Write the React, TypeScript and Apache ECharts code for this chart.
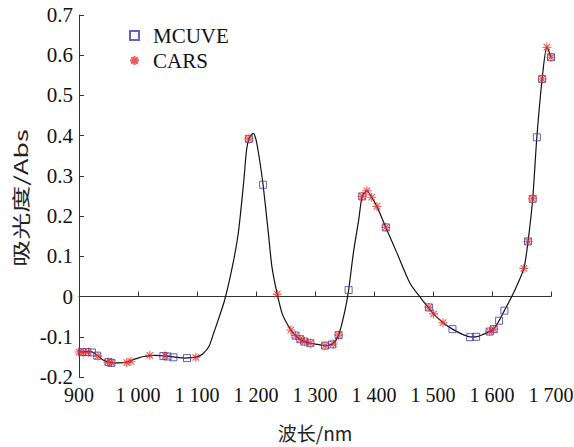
import React, { useEffect, useRef } from "react";
import * as echarts from "echarts";

const xTicks = [900, 1000, 1100, 1200, 1300, 1400, 1500, 1600, 1700];

const spectrumNm = [
  900, 910, 920, 930, 940, 950, 960, 970, 980, 990, 1000, 1010, 1020, 1030, 1040, 1050, 1060, 1070, 1080, 1090,
  1100, 1110, 1120, 1128, 1136, 1147, 1160, 1170, 1179, 1184, 1188, 1192, 1196, 1200, 1205, 1212, 1221, 1227,
  1236, 1245, 1259, 1267, 1275, 1282, 1292, 1305, 1317, 1329, 1340, 1350, 1357, 1365, 1374, 1380, 1388, 1396,
  1405, 1420, 1439, 1461, 1480, 1492, 1501, 1517, 1533, 1550, 1563, 1573, 1585, 1596, 1603, 1612, 1621, 1630,
  1640, 1654, 1661, 1669, 1676, 1685, 1693, 1700,
];
const spectrumAbs = [
  -0.138, -0.137, -0.137, -0.145, -0.157, -0.163, -0.165, -0.165, -0.163, -0.158, -0.153, -0.149, -0.147, -0.146,
  -0.147, -0.148, -0.15, -0.152, -0.153, -0.152, -0.15, -0.142, -0.125, -0.092, -0.058, -0.008, 0.075, 0.158,
  0.283, 0.365, 0.392, 0.402, 0.405, 0.39, 0.35, 0.278, 0.157, 0.074, 0.006, -0.045, -0.083, -0.097, -0.106,
  -0.112, -0.116, -0.119, -0.122, -0.118, -0.096, -0.04, 0.016, 0.108, 0.19, 0.249, 0.263, 0.247, 0.224, 0.172,
  0.108, 0.033, -0.005, -0.027, -0.043, -0.065, -0.081, -0.094, -0.1, -0.1, -0.094, -0.087, -0.08, -0.06, -0.035,
  -0.01, 0.02, 0.07, 0.136, 0.243, 0.396, 0.541, 0.62, 0.595,
];

const mcuveNm = [
  905, 913, 922, 931, 950, 955, 1043, 1050, 1060, 1083, 1188, 1212, 1267, 1275, 1282, 1292, 1317, 1329, 1340, 1357,
  1380, 1420, 1493, 1533, 1563, 1573, 1596, 1603, 1612, 1621, 1661, 1669, 1676, 1685, 1700,
];
const mcuveAbs = [
  -0.138, -0.138, -0.139, -0.147, -0.163, -0.165, -0.148, -0.149, -0.151, -0.153, 0.392, 0.278, -0.097, -0.106,
  -0.112, -0.116, -0.122, -0.119, -0.096, 0.016, 0.249, 0.172, -0.027, -0.081, -0.101, -0.1, -0.087, -0.081, -0.06,
  -0.035, 0.137, 0.243, 0.396, 0.541, 0.595,
];

const carsNm = [
  900, 907, 916, 932, 949, 955, 981, 988, 1020, 1046, 1098, 1188, 1236, 1259, 1267, 1275, 1282, 1292, 1317, 1331,
  1340, 1380, 1388, 1396, 1405, 1420, 1493, 1501, 1517, 1596, 1603, 1654, 1661, 1669, 1685, 1693, 1700,
];
const carsAbs = [
  -0.138, -0.139, -0.138, -0.148, -0.163, -0.164, -0.164, -0.161, -0.146, -0.147, -0.151, 0.392, 0.006, -0.083,
  -0.097, -0.106, -0.112, -0.116, -0.122, -0.118, -0.096, 0.249, 0.263, 0.247, 0.224, 0.172, -0.027, -0.043, -0.065,
  -0.087, -0.081, 0.07, 0.137, 0.243, 0.541, 0.62, 0.595,
];

const yName = "吸光度/Abs";

const serif = "'Liberation Serif', 'Times New Roman', serif";
const cjk = "'Noto Sans CJK SC', sans-serif";
const starPath = "path://M0,-5L0,5M-5,0L5,0M-3.6,-3.6L3.6,3.6M-3.6,3.6L3.6,-3.6";

const zip = (a: number[], b: number[]) => a.map((v, i) => [v, b[i]]);

export default function App() {
  const ref = useRef<HTMLDivElement>(null);
  useEffect(() => {
    if (!ref.current) return;
    const chart = echarts.init(ref.current, undefined, { renderer: "svg" });
    chart.setOption({
      animation: false,
      backgroundColor: "#ffffff",
      grid: { left: 79, right: 23, top: 15, bottom: 70, outerBoundsMode: "none", containLabel: false },
      legend: {
        data: ["MCUVE", "CARS"],
        orient: "vertical",
        left: 124,
        top: 20,
        itemWidth: 9,
        itemHeight: 9,
        itemGap: 4,
        textStyle: { fontFamily: serif, fontSize: 21, color: "#111", padding: [0, 0, 0, 9] },
      },
      graphic: [
        {
          type: "text",
          x: 20,
          y: 198,
          rotation: Math.PI / 2,
          scaleX: 1.5,
          style: {
            text: yName,
            font: `18px ${cjk}`,
            fill: "#222",
            align: "center",
            verticalAlign: "middle",
          },
        },
      ],
      xAxis: {
        type: "value",
        min: 900,
        max: 1700,
        interval: 100,
        name: "波长/nm",
        nameLocation: "middle",
        nameGap: 46,
        nameTextStyle: { fontFamily: cjk, fontSize: 19, color: "#222" },
        axisLine: { show: true, lineStyle: { color: "#333", width: 1 } },
        axisTick: { show: true, inside: true, length: 5, lineStyle: { color: "#333" } },
        splitLine: { show: false },
        axisLabel: {
          fontFamily: serif,
          fontSize: 20,
          color: "#111",
          margin: 8,
          formatter: (v: number) =>
            v >= 1000 ? `${Math.floor(v / 1000)} ${String(v % 1000).padStart(3, "0")}` : String(v),
        },
      },
      yAxis: {
        type: "value",
        min: -0.2,
        max: 0.7,
        interval: 0.1,
        axisLine: { show: true, lineStyle: { color: "#333", width: 1 } },
        axisTick: { show: true, inside: true, length: 5, lineStyle: { color: "#333" } },
        splitLine: { show: false },
        axisLabel: {
          fontFamily: serif,
          fontSize: 21,
          color: "#111",
          margin: 6,
          formatter: (v: number) => (Math.abs(v) < 1e-9 ? "0" : v.toFixed(1)),
        },
      },
      series: [
        {
          name: "spectrum",
          type: "line",
          data: zip(spectrumNm, spectrumAbs),
          showSymbol: false,
          smooth: 0.25,
          lineStyle: { color: "#111", width: 1.2 },
          z: 1,
        },
        {
          name: "MCUVE",
          type: "scatter",
          data: zip(mcuveNm, mcuveAbs),
          symbol: "rect",
          symbolSize: 7,
          itemStyle: { color: "rgba(255,255,255,0)", borderColor: "#3b3bb0", borderWidth: 1 },
          z: 2,
        },
        {
          name: "CARS",
          type: "scatter",
          data: zip(carsNm, carsAbs),
          symbol: starPath,
          symbolSize: 9,
          itemStyle: { color: "rgba(255,255,255,0)", borderColor: "#e4302a", borderWidth: 1.1 },
          z: 3,
        },
      ],
    });
    return () => chart.dispose();
  }, []);
  return (
    <div
      ref={ref}
      style={{ position: "fixed", left: 0, top: 0, width: 574, height: 447, background: "#fff" }}
    />
  );
}
